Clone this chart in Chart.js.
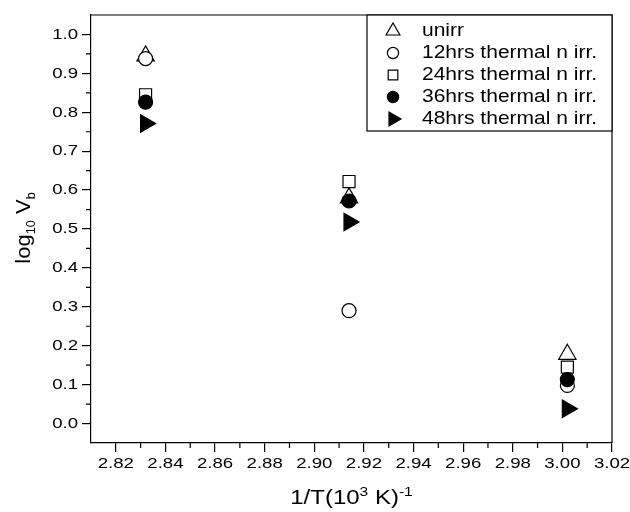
<!DOCTYPE html>
<html><head><meta charset="utf-8">
<script src="https://cdn.jsdelivr.net/npm/chart.js@4.4.0/dist/chart.umd.min.js"></script>
<style>html,body{margin:0;padding:0;background:#fff}#wrap{width:630px;height:512px}</style>
</head><body><div id="wrap"><canvas id="c" width="630" height="512"></canvas></div>
<script>
// ---- data ----
const xValues = [2.832, 2.914, 3.002];
const seriesNames = ['unirr', '12hrs thermal n irr.', '24hrs thermal n irr.', '36hrs thermal n irr.', '48hrs thermal n irr.'];
const unirr = [0.945, 0.580, 0.178];
const hrs12 = [0.938, 0.290, 0.098];
const hrs24 = [0.845, 0.622, 0.145];
const hrs36 = [0.826, 0.572, 0.113];
const hrs48 = [0.771, 0.518, 0.038];
const xTicks = [2.82, 2.84, 2.86, 2.88, 2.90, 2.92, 2.94, 2.96, 2.98, 3.00, 3.02];
const xMinor = [2.83, 2.85, 2.87, 2.89, 2.91, 2.93, 2.95, 2.97, 2.99, 3.01];
const yTicks = [0.0, 0.1, 0.2, 0.3, 0.4, 0.5, 0.6, 0.7, 0.8, 0.9, 1.0];
const yMinor = [0.05, 0.15, 0.25, 0.35, 0.45, 0.55, 0.65, 0.75, 0.85, 0.95];
const xTitle = [['1/T(10', 0], ['3', 1], [' K)', 0], ['-1', 1]];
const yTitle = [['log', 0], ['10', 2], [' V', 0], ['b', 2]];

// ---- styling ----
const SX = 1.2;
const FAM = "'Liberation Sans', Arial, Helvetica, sans-serif";
const TICK_FONT = '15.5px ' + FAM;
const LEG_FONT = '17.5px ' + FAM;
const markers = [
  { pointStyle: 'triangle', fill: false, r: 10, rot: 0 },
  { pointStyle: 'circle', fill: false, r: 7, rot: 0 },
  { pointStyle: 'rect', fill: false, r: 8.5, rot: 0 },
  { pointStyle: 'circle', fill: true, r: 7, rot: 0 },
  { pointStyle: 'triangle', fill: true, r: 10, rot: 90 }
];
const series = [unirr, hrs12, hrs24, hrs36, hrs48];

function stretchText(ctx, text, x, y, align, font) {
  ctx.save();
  ctx.font = font;
  ctx.textBaseline = 'middle';
  ctx.textAlign = 'left';
  const w = ctx.measureText(text).width * SX;
  const left = align === 'right' ? x - w : align === 'center' ? x - w / 2 : x;
  ctx.translate(left, y);
  ctx.scale(SX, 1);
  ctx.fillText(text, 0, 0);
  ctx.restore();
}
function richText(ctx, segs, cx, baseY, sx, big, small) {
  ctx.save();
  ctx.textBaseline = 'alphabetic';
  ctx.textAlign = 'left';
  let total = 0;
  const ws = segs.map(([t, k]) => { ctx.font = (k ? small : big) + 'px ' + FAM; const w = ctx.measureText(t).width; total += w; return w; });
  ctx.translate(cx - total * sx / 2, baseY);
  ctx.scale(sx, 1);
  let xx = 0;
  segs.forEach(([t, k], i) => {
    ctx.font = (k ? small : big) + 'px ' + FAM;
    const dy = k === 1 ? -8 : k === 2 ? 5 : 0;
    ctx.fillText(t, xx, dy);
    xx += ws[i];
  });
  ctx.restore();
}
function drawMarker(ctx, m, x, y, scale) {
  ctx.save();
  ctx.fillStyle = m.fill ? '#000' : '#fff';
  ctx.strokeStyle = '#000';
  ctx.lineWidth = 1.2;
  Chart.helpers.drawPoint(ctx, { pointStyle: m.pointStyle, rotation: m.rot, radius: m.r * scale, borderWidth: 1.2 }, x, y);
  ctx.restore();
}

const decor = {
  id: 'decor',
  afterDraw(chart) {
    const { ctx, chartArea: a, scales: { x, y } } = chart;
    ctx.save();
    ctx.strokeStyle = '#000';
    ctx.lineWidth = 1.2;
    ctx.beginPath();
    ctx.moveTo(a.left, a.top); ctx.lineTo(a.right, a.top); ctx.lineTo(a.right, a.bottom);
    ctx.stroke();
    ctx.beginPath();
    xMinor.forEach(v => { const p = x.getPixelForValue(v); ctx.moveTo(p, a.bottom); ctx.lineTo(p, a.bottom + 5); });
    yMinor.forEach(v => { const p = y.getPixelForValue(v); ctx.moveTo(a.left, p); ctx.lineTo(a.left - 5, p); });
    ctx.stroke();
    ctx.fillStyle = '#000';
    xTicks.forEach(v => stretchText(ctx, v.toFixed(2), x.getPixelForValue(v), a.bottom + 21, 'center', TICK_FONT));
    yTicks.forEach(v => stretchText(ctx, v.toFixed(1), a.left - 13, y.getPixelForValue(v), 'right', TICK_FONT));
    // axis titles
    richText(ctx, xTitle, (a.left + a.right) / 2, 504, SX, 20, 13);
    ctx.save();
    ctx.translate(30, (a.top + a.bottom) / 2 - 1);
    ctx.rotate(-Math.PI / 2);
    richText(ctx, yTitle, 0, 0, 1.05, 21, 12);
    ctx.restore();
    // legend
    const lx = 367, ly = a.top, lw = a.right - lx, lh = 116;
    ctx.fillStyle = '#fff';
    ctx.fillRect(lx, ly, lw, lh);
    ctx.strokeRect(lx, ly, lw, lh);
    chart.data.datasets.forEach((ds, i) => {
      const ry = ly + 16 + i * 22;
      drawMarker(ctx, markers[i], 393, ry, 0.8);
      ctx.fillStyle = '#000';
      stretchText(ctx, ds.label, 422, ry, 'left', LEG_FONT);
    });
    ctx.restore();
  }
};

const datasets = series.map((vals, i) => ({
  label: seriesNames[i],
  data: xValues.map((xv, j) => ({ x: xv, y: vals[j] })),
  pointStyle: markers[i].pointStyle,
  pointRotation: markers[i].rot,
  pointRadius: markers[i].r,
  pointHoverRadius: markers[i].r,
  pointBackgroundColor: markers[i].fill ? '#000' : '#fff',
  pointBorderColor: '#000',
  pointBorderWidth: 1.2,
  showLine: false,
  order: series.length - 1 - i
}));

new Chart(document.getElementById('c'), {
  type: 'scatter',
  data: { datasets },
  options: {
    responsive: false,
    animation: false,
    layout: { padding: { top: 15, right: 18, left: 0, bottom: 0 } },
    plugins: { legend: { display: false }, tooltip: { enabled: false } },
    scales: {
      x: {
        type: 'linear', min: 2.81, max: 3.02,
        afterBuildTicks: s => { s.ticks = xTicks.map(v => ({ value: v })); },
        afterFit: s => { s.height = 69; },
        ticks: { display: false },
        grid: { display: true, drawOnChartArea: false, drawTicks: true, tickLength: 9, color: '#000', lineWidth: 1.2 },
        border: { display: true, color: '#000', width: 1.2 }
      },
      y: {
        type: 'linear', min: -0.05, max: 1.05,
        afterBuildTicks: s => { s.ticks = yTicks.map(v => ({ value: v })); },
        afterFit: s => { s.width = 91; },
        ticks: { display: false },
        grid: { display: true, drawOnChartArea: false, drawTicks: true, tickLength: 9, color: '#000', lineWidth: 1.2 },
        border: { display: true, color: '#000', width: 1.2 }
      }
    }
  },
  plugins: [decor]
});
</script>
</body></html>
